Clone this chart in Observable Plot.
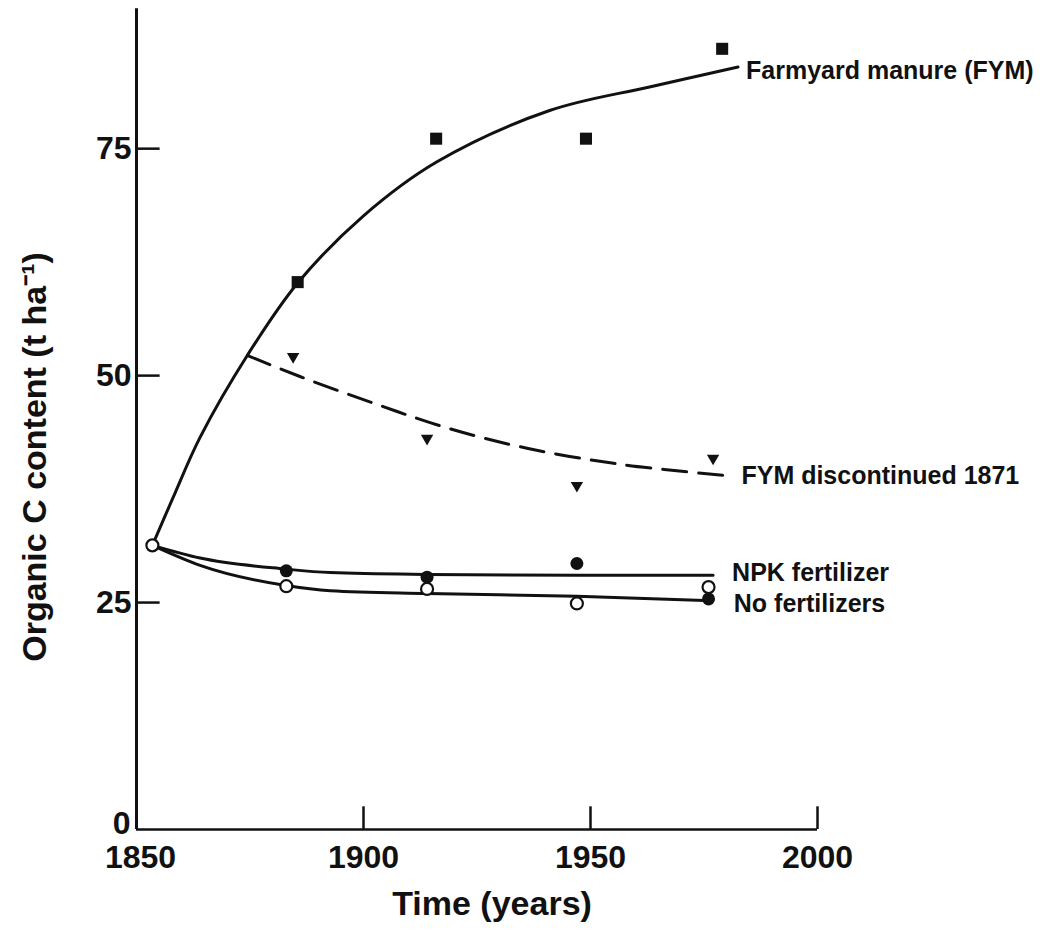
<!DOCTYPE html>
<html>
<head>
<meta charset="utf-8">
<script src="https://cdn.jsdelivr.net/npm/d3@7"></script>
<script src="https://cdn.jsdelivr.net/npm/@observablehq/plot@0.6"></script>
<style>
  html, body { margin: 0; padding: 0; background: #fff; }
  #chart svg { display: block; }
</style>
</head>
<body>
<div id="chart"></div>
<script>
// ---- Observed points ----
const fymYears = [1885.5, 1916, 1949, 1979];
const fymValues = [60.3, 76.1, 76.1, 86.0];
const discYears = [1884.5, 1914, 1947, 1977];
const discValues = [52.1, 43.1, 37.9, 40.9];
const npkYears = [1883, 1914, 1947, 1976];
const npkValues = [28.5, 27.8, 29.3, 25.4];
const noneYears = [1853.5, 1883, 1914, 1947, 1976];
const noneValues = [31.3, 26.8, 26.5, 24.9, 26.7];

// ---- Fitted curves ----
const fymCurveYears = [1853.5, 1858, 1864, 1874.5, 1885.5, 1900, 1916, 1941, 1963, 1982.5];
const fymCurveValues = [31.3, 36.5, 43.2, 52.3, 60.2, 67.6, 73.5, 79.2, 81.8, 84.0];
const discCurveYears = [1874.5, 1886, 1902, 1918, 1936, 1957, 1979.5];
const discCurveValues = [52.2, 49.9, 47.0, 44.3, 42.0, 40.2, 39.0];
const npkCurveYears = [1853.5, 1864, 1882.6, 1892.7, 1914, 1947, 1977];
const npkCurveValues = [31.3, 29.9, 28.7, 28.3, 28.1, 28.0, 28.0];
const noneCurveYears = [1853.5, 1864, 1882.6, 1892.7, 1914, 1947, 1976.5];
const noneCurveValues = [31.3, 29.1, 26.9, 26.3, 26.0, 25.7, 25.2];

// ---- Axis ticks and labels ----
const xTicks = [1900, 1950, 2000];
const xTickLabels = [1900, 1950, 2000];
const xFirstLabel = [1850];
const yTicks = [25, 50, 75];
const yTickLabels = [25, 50, 75];
const yZeroLabel = [0];
const xTitle = "Time (years)";
const yTitle = "Organic C content (t ha\u207B\u00B9)";
const labelFYM = "Farmyard manure (FYM)";
const labelDisc = "FYM discontinued 1871";
const labelNPK = "NPK fertilizer";
const labelNone = "No fertilizers";

const zip = (xs, ys) => xs.map((x, i) => ({x, y: ys[i]}));
const fymPts = zip(fymYears, fymValues);
const discPts = zip(discYears, discValues);
const npkPts = zip(npkYears, npkValues);
const nonePts = zip(noneYears, noneValues);
const fymCurve = zip(fymCurveYears, fymCurveValues);
const discCurve = zip(discCurveYears, discCurveValues);
const npkCurve = zip(npkCurveYears, npkCurveValues);
const noneCurve = zip(noneCurveYears, noneCurveValues);

const bold = {fontWeight: "bold", fill: "#111"};

const chart = Plot.plot({
  width: 1050,
  height: 940,
  marginLeft: 136,
  marginRight: 233,
  marginTop: 12,
  marginBottom: 111,
  x: {domain: [1850, 2000], axis: null},
  y: {domain: [0, 90], axis: null},
  style: {fontFamily: "'Liberation Sans', Arial, Helvetica, sans-serif", background: "#fff", color: "#111"},
  marks: [
    // axes
    Plot.ruleX([1850], {y1: 0, y2: 90.4, stroke: "#111", strokeWidth: 3}),
    Plot.ruleY([0], {x1: 1850, x2: 2000, stroke: "#111", strokeWidth: 2.5}),
    Plot.ruleY(yTicks, {y: d => d, x1: 1850, x2: 1855.2, stroke: "#111", strokeWidth: 2.5}),
    Plot.ruleX(xTicks, {x: d => d, y1: 0, y2: 2.5, stroke: "#111", strokeWidth: 2.5}),
    Plot.text(yTickLabels, {y: d => d, text: d => String(d), frameAnchor: "left", textAnchor: "end", lineAnchor: "middle", dx: -5, fontSize: 32, ...bold}),
    Plot.text(yZeroLabel, {y: d => d, text: d => String(d), frameAnchor: "left", textAnchor: "end", lineAnchor: "middle", dx: -6, dy: -6, fontSize: 32, ...bold}),
    Plot.text(xTickLabels, {x: d => d, text: d => String(d), frameAnchor: "bottom", lineAnchor: "middle", dy: 28, fontSize: 32, ...bold}),
    Plot.text(xFirstLabel, {x: d => d, text: d => String(d), frameAnchor: "bottom", lineAnchor: "middle", dx: 4, dy: 28, fontSize: 32, ...bold}),
    Plot.text([xTitle], {text: d => d, frameAnchor: "bottom", lineAnchor: "middle", textAnchor: "middle", dx: 15, dy: 75, fontSize: 34, ...bold}),
    Plot.text([yTitle], {text: d => d, frameAnchor: "left", rotate: -90, textAnchor: "middle", lineAnchor: "middle", dx: -101, dy: 36, fontSize: 34, ...bold}),

    // curves
    Plot.line(fymCurve, {x: "x", y: "y", curve: "catmull-rom", stroke: "#111", strokeWidth: 3}),
    Plot.line(discCurve, {x: "x", y: "y", curve: "catmull-rom", stroke: "#111", strokeWidth: 3, strokeDasharray: "24,12"}),
    Plot.line(npkCurve, {x: "x", y: "y", curve: "monotone-x", stroke: "#111", strokeWidth: 3}),
    Plot.line(noneCurve, {x: "x", y: "y", curve: "monotone-x", stroke: "#111", strokeWidth: 3}),

    // points
    Plot.dot(fymPts, {x: "x", y: "y", symbol: "square", r: 6.8, fill: "#111", stroke: "none"}),
    Plot.dot(discPts, {x: "x", y: "y", symbol: "triangle", rotate: 180, r: 4.6, fill: "#111", stroke: "none"}),
    Plot.dot(npkPts, {x: "x", y: "y", symbol: "circle", r: 6.5, fill: "#111", stroke: "none"}),
    Plot.dot(nonePts, {x: "x", y: "y", symbol: "circle", r: 6, fill: "#fff", stroke: "#111", strokeWidth: 2.2}),

    // curve labels
    Plot.text(fymCurve, Plot.selectLast({x: "x", y: "y", text: () => labelFYM, textAnchor: "start", dx: 8, dy: 4, fontSize: 25, ...bold})),
    Plot.text(discCurve, Plot.selectLast({x: "x", y: "y", text: () => labelDisc, textAnchor: "start", dx: 17, dy: 1, fontSize: 25, ...bold})),
    Plot.text(npkCurve, Plot.selectLast({x: "x", y: "y", text: () => labelNPK, textAnchor: "start", dx: 19, dy: -2, fontSize: 25, ...bold})),
    Plot.text(noneCurve, Plot.selectLast({x: "x", y: "y", text: () => labelNone, textAnchor: "start", dx: 23, dy: 3, fontSize: 25, ...bold}))
  ]
});
document.getElementById("chart").appendChild(chart);
</script>
</body>
</html>
